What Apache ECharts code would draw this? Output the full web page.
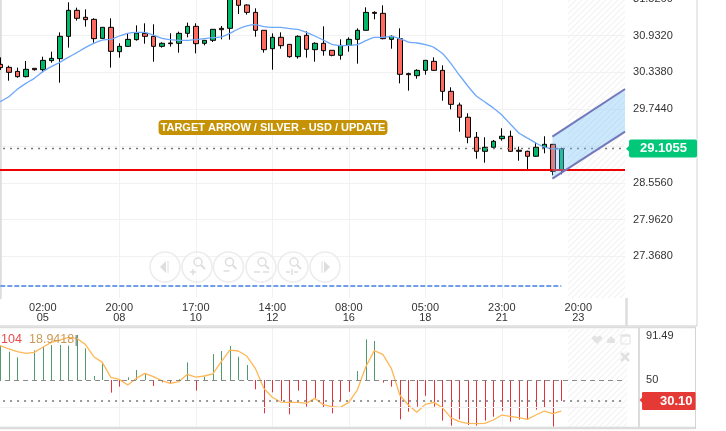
<!DOCTYPE html>
<html><head><meta charset="utf-8">
<style>html,body{margin:0;padding:0;background:#fff}#c{width:726px;height:431px}</style>
<script src="https://cdn.jsdelivr.net/npm/echarts@6/dist/echarts.min.js"></script>
</head><body><div id="c"></div>
<script>
const xTickLabels = {5:'02:00\n05',14:'20:00\n08',23:'17:00\n10',32:'14:00\n12',41:'08:00\n16',50:'05:00\n18',59:'23:00\n21',68:'20:00\n23'};
const slotCount = 74;
const candles = [
[30.469,30.416,30.378,30.582],[30.421,30.340,30.205,30.448],[30.356,30.270,30.254,30.416],[30.270,30.389,30.259,30.523],
[30.405,30.383,30.367,30.410],[30.383,30.534,30.340,30.593],[30.529,30.566,30.496,30.674],[30.561,30.922,30.173,30.986],
[30.922,31.342,30.739,31.471],[31.342,31.213,31.175,31.385],[31.229,31.191,31.078,31.358],[31.196,30.884,30.819,31.213],
[30.889,31.067,30.889,31.067],[31.067,30.679,30.416,31.213],[30.674,30.760,30.577,30.809],[30.760,30.873,30.755,30.970],
[30.868,30.976,30.852,31.099],[30.970,30.922,30.803,31.132],[30.922,30.760,30.512,31.116],[30.760,30.809,30.739,30.825],
[30.814,30.803,30.755,30.970],[30.809,30.970,30.658,30.997],[30.970,31.083,30.906,31.143],[31.083,30.803,30.647,31.132],
[30.809,30.857,30.776,30.857],[30.857,31.035,30.830,31.035],[31.051,31.029,30.873,31.089],[31.051,31.670,30.868,31.700],
[31.589,31.423,31.283,31.650],[31.428,31.309,31.272,31.439],[31.309,31.019,30.916,31.374],[31.019,30.706,30.658,31.019],
[30.722,30.906,30.383,30.970],[30.906,30.771,30.722,30.986],[30.792,30.593,30.577,30.792],[30.593,30.922,30.561,30.938],
[30.938,30.712,30.577,31.003],[30.706,30.809,30.512,30.825],[30.809,30.690,30.609,31.083],[30.696,30.615,30.599,30.696],
[30.615,30.776,30.545,30.873],[30.776,30.873,30.674,30.906],[30.873,31.019,30.480,31.051],[31.019,31.309,31.019,31.390],
[31.309,31.293,31.196,31.326],[31.293,30.884,30.873,31.423],[30.873,30.922,30.722,30.938],[30.884,30.308,30.162,31.051],
[30.319,30.302,30.044,30.335],[30.286,30.372,30.238,30.389],[30.372,30.534,30.302,30.534],[30.518,30.372,30.367,30.582],
[30.372,30.033,29.882,30.453],[30.033,29.823,29.742,30.098],[29.812,29.614,29.381,29.850],[29.614,29.291,29.194,29.678],
[29.291,29.064,28.945,29.376],[29.064,29.129,28.880,29.291],[29.129,29.226,29.123,29.247],[29.268,29.307,29.236,29.436],
[29.307,29.064,29.058,29.397],[29.081,29.064,28.912,29.139],[29.064,28.984,28.774,29.074],[28.984,29.129,28.977,29.203],
[29.129,29.177,29.032,29.307],[29.177,28.741,28.677,29.182],[28.762,29.1055,28.693,29.123]];
const maLine = [29.866,29.947,30.066,30.162,30.243,30.351,30.432,30.502,30.582,30.658,30.739,30.809,30.862,30.873,30.927,30.970,30.986,30.986,30.943,30.889,30.868,30.857,30.857,30.868,30.884,30.900,30.911,30.970,31.040,
31.089,31.110,31.078,31.067,31.067,31.046,31.035,30.986,30.927,30.862,30.792,30.771,30.776,30.787,30.852,30.906,30.906,30.922,30.884,30.830,30.814,30.787,30.744,30.647,30.485,30.297,30.119,29.958,29.861,29.764,29.651,29.505,29.360,29.279,29.199,29.134,29.102,29.102];
const oscBars = [82.5,76.9,71.5,50,78.1,81.6,83.2,83.2,82.5,92.7,80.0,53.8,66.7,38.0,43.7,52.5,59.5,55.7,44.3,47.8,46.8,50.6,66.7,39.9,53.2,74.6,77.5,82.2,72.1,
64.2,41.2,18.4,38.3,30.1,17.5,39.9,24.7,32.6,24.1,18.4,30.1,38.9,58.5,88.5,87.0,47.5,43.7,12.7,20.0,24.7,35.1,24.7,11.5,6.7,12.7,7.3,6.7,11.5,15.2,20.9,10.5,12.4,12.7,21.9,24.1,5.8,30.1];
const oscLine = [82.5,79.4,76.9,75.3,76.2,81.0,85.7,87.9,90.4,89.5,83.8,72.1,66.7,52.5,50.6,45.3,51.6,56.3,53.2,49.4,46.8,48.4,55.4,52.8,53.8,55.7,67.4,78.4,77.5,
72.7,61.1,42.1,33.6,29.1,28.8,28.8,27.9,32.6,26.6,24.7,24.1,28.8,40.5,62.6,77.8,74.3,61.1,35.8,26.3,19.4,26.9,28.8,23.8,14.3,10.5,8.9,8.6,8.9,12.1,16.8,15.6,14.3,12.7,16.8,20.6,18.1,20.6];
const priceTicks = [31.526,30.932,30.338,29.744,29.150,28.556,27.962,27.368];
const oscTicks = [91.49,50];
const lastPrice = 29.1055, supportPrice = 28.762, lowerLevel = 26.888, oscLast = 30.10, oscMid = 50, oscGrid = 24.4;
const channel = {x:[64.95,73.5], upper:[29.300,30.071], lower:[28.622,29.381]};
const titleText = 'TARGET ARROW / SILVER - USD / UPDATE';
const legendA = '104', legendB = '18.9418';

const FONT = '"Liberation Sans", Arial, sans-serif';
const categories = []; for (let i=0;i<slotCount;i++) categories.push(xTickLabels[i]||'');
const GRID = '#f1f1f1', FRAME = '#dcdcdc';

const tile = document.createElement('canvas'); tile.width=6; tile.height=6;
const g = tile.getContext('2d'); g.strokeStyle='rgba(0,0,0,0.055)'; g.lineWidth=1.2;
g.beginPath(); g.moveTo(-1,7);g.lineTo(7,-1);g.moveTo(-1,1);g.lineTo(1,-1);g.moveTo(5,7);g.lineTo(7,5);g.stroke();

function hline(x1,x2,y,c,w){return {type:'line',silent:true,z:5,shape:{x1,y1:y,x2,y2:y},style:{stroke:c,lineWidth:w}};}
function vline(x,y1,y2,c,w){return {type:'line',silent:true,z:5,shape:{x1:x,y1,x2:x,y2},style:{stroke:c,lineWidth:w}};}
const IC='#dedede';
function glass(cx,cy,extra){
  const kids=[{type:'circle',shape:{cx:cx+1,cy:cy-5,r:4},style:{fill:'none',stroke:IC,lineWidth:1.5}},
   {type:'line',shape:{x1:cx+4,y1:cy-2,x2:cx+8,y2:cy+2},style:{stroke:IC,lineWidth:2}}];
  extra.forEach(e=>{kids.push({type:'line',shape:{x1:cx+e[0],y1:cy+e[1],x2:cx+e[2],y2:cy+e[3]},style:{stroke:IC,lineWidth:1.5}});});
  return kids;
}
function button(cx,cy,kids){return [{type:'circle',silent:true,z:1,shape:{cx,cy,r:15},style:{fill:'rgba(255,255,255,0.6)',stroke:'#ececec',lineWidth:1.5}}].concat(kids.map(k=>Object.assign({silent:true,z:1},k)));}
const by=267;
const buttons = [].concat(
 button(165,by,[{type:'polygon',shape:{points:[[160,by],[166,by-6],[166,by+6]]},style:{fill:IC}},{type:'line',shape:{x1:168,y1:by-6,x2:168,y2:by+6},style:{stroke:IC,lineWidth:1}}]),
 button(197,by,glass(197,by,[[-7,5,-1,5],[-4,2,-4,8]])),
 button(228.5,by,glass(228.5,by,[[-5,4,1,4]])),
 button(261,by,glass(261,by,[[-7,5,-1,5],[2,5,8,5]])),
 button(293,by,glass(293,by,[[-7,5,-3,5],[1,5,5,5],[-1,2,-1,8]])),
 button(325,by,[{type:'polygon',shape:{points:[[330,by],[324,by-6],[324,by+6]]},style:{fill:IC}},{type:'line',shape:{x1:322,y1:by-6,x2:322,y2:by+6},style:{stroke:IC,lineWidth:1}}])
);
const graphics = [
 {type:'rect',silent:true,z:0,shape:{x:568,y:0,width:57,height:298},style:{fill:{image:tile,repeat:'repeat'}}},
 {type:'rect',silent:true,z:0,shape:{x:568,y:329,width:59,height:98},style:{fill:{image:tile,repeat:'repeat'}}},
 hline(0,697,326,FRAME,1.5), hline(0,695,327.5,FRAME,1.5), hline(0,695,428,FRAME,2.5),
 vline(697,0,326,'#d4d4d4',1), vline(695.5,327,429,'#d4d4d4',1), vline(626.5,298,326,FRAME,2.5),
 {type:'polygon',silent:true,z:6,shape:{points:[[626,148.8],[630,145],[630,152.6]]},style:{fill:'#00c878'}},
 {type:'polygon',silent:true,z:6,shape:{points:[[639.5,400],[643,396.5],[643,403.5]]},style:{fill:'#e53935'}},
 {type:'text',silent:true,z:20,x:273,y:127.5,style:{text:titleText,fill:'#fff',font:'bold 11px '+FONT,align:'center',verticalAlign:'middle',backgroundColor:'#c49204',padding:[2,2,2,2],borderRadius:4}},
 {type:'text',silent:true,z:20,x:1,y:340,style:{text:legendA,fill:'#e84c4c',font:'12.5px '+FONT,verticalAlign:'middle'}},
 {type:'text',silent:true,z:20,x:29,y:340,style:{text:legendB,fill:'#cb9a55',font:'12.5px '+FONT,verticalAlign:'middle'}},
 {type:'rect',silent:true,z:20,shape:{x:75.5,y:335,width:1.5,height:11},style:{fill:'#999'}},
 {type:'polygon',silent:true,z:10,shape:{points:[[592,337],[595,335.5],[597,337],[599,335.5],[602,337],[602,339],[597,344],[592,339]]},style:{fill:'#e3e3e3'}},
 {type:'polygon',silent:true,z:10,shape:{points:[[607,343],[607,340],[611,336],[615,340],[615,343]]},style:{fill:'#e3e3e3'}},
 {type:'rect',silent:true,z:10,shape:{x:621,y:335,width:9,height:9},style:{fill:'none',stroke:'#e3e3e3',lineWidth:1}},
 {type:'line',silent:true,z:10,shape:{x1:621,y1:335.7,x2:630,y2:335.7},style:{stroke:'#e3e3e3',lineWidth:2}},
 {type:'line',silent:true,z:10,shape:{x1:621,y1:353,x2:629,y2:361},style:{stroke:'#e0e0e0',lineWidth:2.5}},
 {type:'line',silent:true,z:10,shape:{x1:629,y1:353,x2:621,y2:361},style:{stroke:'#e0e0e0',lineWidth:2.5}}
].concat(buttons);

const vSplit = {show:true,showMinLine:false,showMaxLine:false,alignWithLabel:true,interval:(i,v)=>v!=='',lineStyle:{color:GRID,width:1}};
const option = {
 animation:false, backgroundColor:'#fff', tooltip:{show:false}, graphic:graphics,
 grid:[{left:-3.95,top:-1.07,width:629,height:299.07,outerBoundsMode:'none'},{left:-3.95,top:328,width:629,height:100,outerBoundsMode:'none'}],
 xAxis:[
  {type:'category',gridIndex:0,data:categories,boundaryGap:true,axisLine:{show:false},axisTick:{show:false,alignWithLabel:true},
   axisLabel:{show:true,interval:0,color:'#333',fontFamily:FONT,fontSize:11,lineHeight:10,margin:5,hideOverlap:false},splitLine:vSplit},
  {type:'value',gridIndex:0,min:-0.5,max:73.5,show:false},
  {type:'category',gridIndex:1,data:categories,boundaryGap:true,axisLine:{show:false},axisTick:{show:false,alignWithLabel:true},axisLabel:{show:false},splitLine:vSplit}
 ],
 yAxis:[
  {type:'value',gridIndex:0,position:'right',min:26.694,max:31.526,offset:1,scale:true,
   axisLine:{show:true,lineStyle:{color:FRAME,width:2.5}},axisTick:{show:false,customValues:priceTicks},
   axisLabel:{customValues:priceTicks,color:'#333',fontFamily:FONT,fontSize:11,margin:7,padding:[0,0,4,0],formatter:v=>v.toFixed(4)},
   splitLine:{show:true,lineStyle:{color:GRID}}},
  {type:'value',gridIndex:1,position:'right',min:4.5,max:99.3,offset:14,scale:true,
   axisLine:{show:true,lineStyle:{color:FRAME,width:2}},axisTick:{show:false,customValues:oscTicks},
   axisLabel:{customValues:oscTicks,color:'#333',fontFamily:FONT,fontSize:11,margin:7,formatter:v=>String(v)},
   splitLine:{show:false}}
 ],
 series:[
  {type:'candlestick',name:'price',xAxisIndex:0,yAxisIndex:0,data:candles,barWidth:5,z:3,clip:true,
   itemStyle:{color:'#00b867',color0:'#ff6a5f',borderColor:'#000',borderColor0:'#000',borderWidth:1}},
  {type:'line',name:'ma',xAxisIndex:0,yAxisIndex:0,data:maLine,showSymbol:false,smooth:0.1,z:4,lineStyle:{color:'#6ea8fb',width:1.3},
   markLine:{silent:true,symbol:'none',animation:false,data:[
    {yAxis:lastPrice,lineStyle:{color:'#777',type:[2,5],width:1.3},
     label:{show:true,position:'end',distance:4,formatter:lastPrice.toFixed(4),color:'#fff',fontFamily:FONT,fontWeight:'bold',fontSize:13,backgroundColor:'#00c878',padding:[3,10,2,11],borderRadius:2}},
    {yAxis:supportPrice,lineStyle:{color:'#f00000',type:'solid',width:2},label:{show:false}},
    [{coord:[0,lowerLevel],lineStyle:{color:'#6f9fe8',type:[5,2],width:2},label:{show:false}},{coord:[66,lowerLevel]}]
   ]}},
  {type:'custom',name:'channel',xAxisIndex:1,yAxisIndex:0,z:6,clip:true,
   data:[[channel.x[0],channel.upper[0],channel.lower[0],channel.x[1],channel.upper[1],channel.lower[1]]],
   encode:{x:[0,3],y:[1,2,4,5]},
   renderItem:(p,api)=>{
     const a=api.coord([api.value(0),api.value(1)]),b=api.coord([api.value(3),api.value(4)]),
           c=api.coord([api.value(3),api.value(5)]),d=api.coord([api.value(0),api.value(2)]);
     return {type:'group',children:[
      {type:'polygon',shape:{points:[a,b,c,d]},style:{fill:'rgba(110,190,250,0.36)',stroke:'none'}},
      {type:'line',shape:{x1:a[0],y1:a[1],x2:b[0],y2:b[1]},style:{stroke:'#7278bb',lineWidth:2}},
      {type:'line',shape:{x1:d[0],y1:d[1],x2:c[0],y2:c[1]},style:{stroke:'#7278bb',lineWidth:2}}
     ]};
   }},
  {type:'custom',name:'oscBars',xAxisIndex:2,yAxisIndex:1,z:3,
   data:oscBars.map((v,i)=>[i,v]),encode:{x:0,y:1},
   renderItem:(p,api)=>{
     const v=api.value(1),a=api.coord([api.value(0),oscMid]),b=api.coord([api.value(0),v]),x=Math.round(a[0])+0.5;
     return {type:'line',shape:{x1:x,y1:a[1],x2:x,y2:b[1]},style:{stroke:v>=oscMid?'#4f9a6e':'#e5313a',lineWidth:1}};
   }},
  {type:'line',name:'osc',xAxisIndex:2,yAxisIndex:1,data:oscLine,showSymbol:false,smooth:false,z:4,lineStyle:{color:'#ffb755',width:1.3},
   markLine:{silent:true,symbol:'none',animation:false,data:[
    {yAxis:oscMid,lineStyle:{color:'#888',type:[5,4],width:1},label:{show:false}},
    {yAxis:oscGrid,lineStyle:{color:GRID,type:'solid',width:1},label:{show:false}},
    {yAxis:oscLast,lineStyle:{color:'#777',type:[2,5],width:1.5},
     label:{show:true,position:'end',distance:17,formatter:oscLast.toFixed(2),color:'#fff',fontFamily:FONT,fontWeight:'bold',fontSize:13,backgroundColor:'#e53935',padding:[3,3,2,18],borderRadius:1}}
   ]}}
 ]
};
const chart = echarts.init(document.getElementById('c'),null,{renderer:'canvas'});
chart.setOption(option);
</script></body></html>
